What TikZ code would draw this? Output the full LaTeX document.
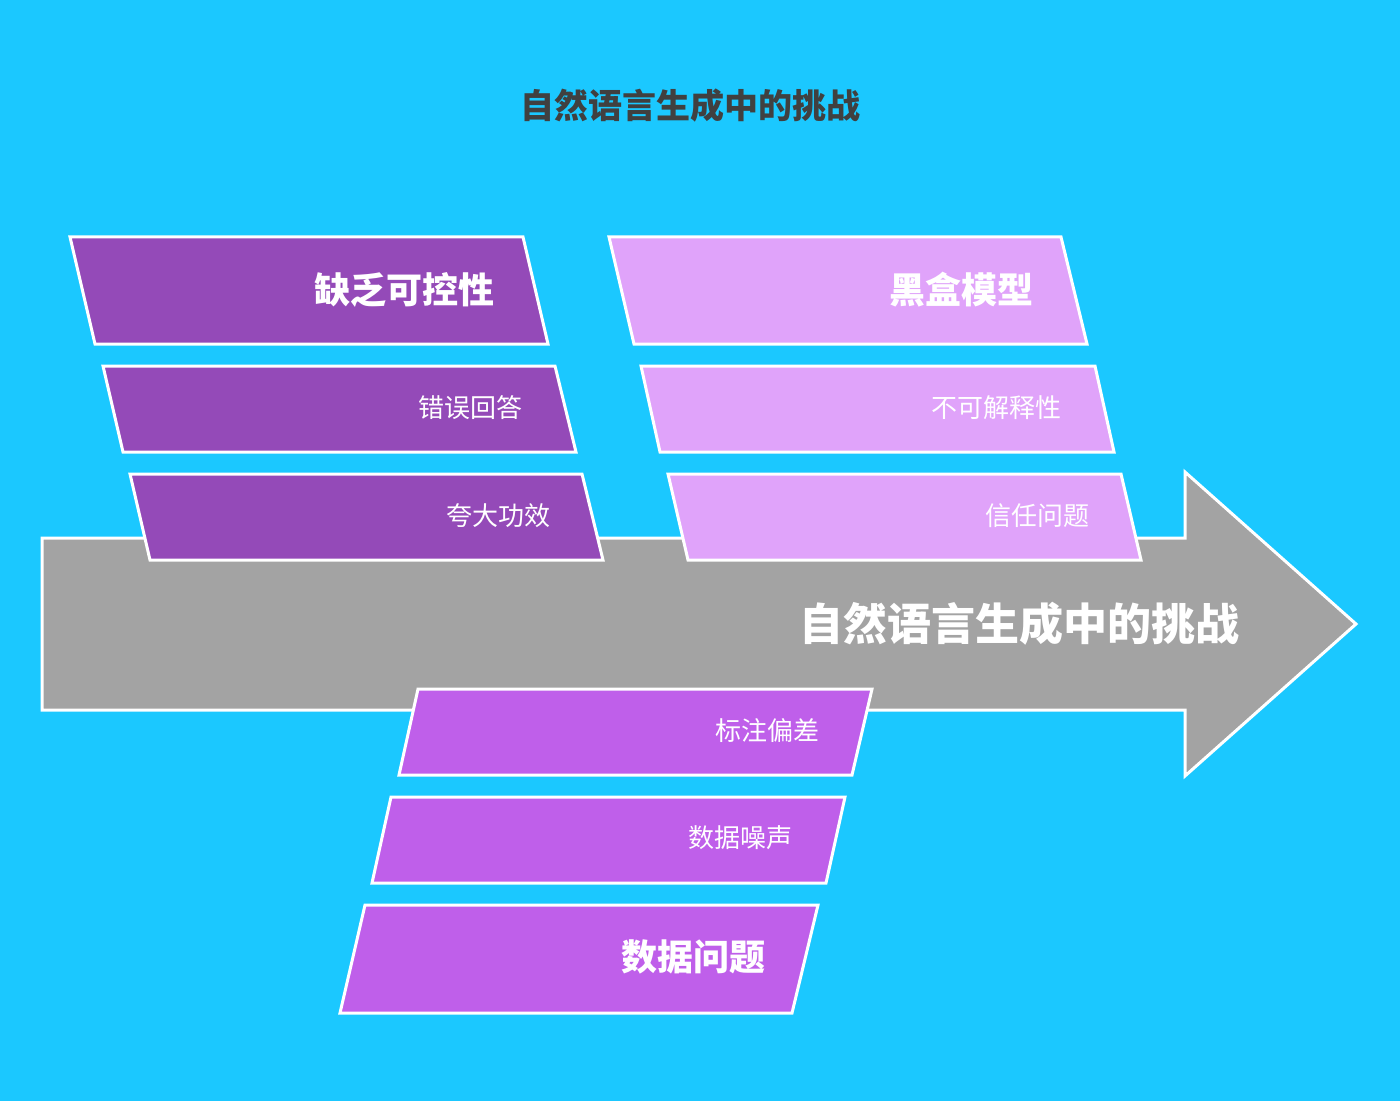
\documentclass[tikz,border=0pt]{standalone}
\usepackage{fontspec}
\setmainfont{Noto Sans CJK SC}
\begin{document}
\begin{tikzpicture}[x=0.5pt,y=-0.5pt,
  para/.style={draw=white,line width=1.5pt},
  big/.style={anchor=east,text=white,font=\fontsize{18}{20}\selectfont\bfseries},
  small/.style={anchor=east,text=white,font=\fontsize{13}{15}\selectfont}]
\definecolor{bg}{HTML}{1BC8FF}
\definecolor{dp}{HTML}{944AB8}
\definecolor{lp}{HTML}{E0A3FA}
\definecolor{mp}{HTML}{BF5FEA}
\definecolor{ag}{HTML}{A3A3A3}
\fill[bg] (0,0) rectangle (1400,1101);
\useasboundingbox (0,0) rectangle (1400,1101);
\node[text=black!75,font=\fontsize{17}{19}\selectfont\bfseries] (title) at (690,106) {自然语言生成中的挑战};
\draw[para,fill=ag] (42,538) -- (1185,538) -- (1185,472) -- (1356,624) -- (1185,776) -- (1185,710) -- (42,710) -- cycle;
\node[anchor=east,text=white,font=\fontsize{22}{24}\selectfont\bfseries] (main) at (1247,624) {自然语言生成中的挑战};
\draw[para,fill=dp] (70,237) -- (523,237) -- (548,344) -- (95,344) -- cycle;
\node[big] (a1) at (502,290) {缺乏可控性};
\draw[para,fill=dp] (103,366) -- (555,366) -- (576,452) -- (123,452) -- cycle;
\node[small] (a2) at (530,408) {错误回答};
\draw[para,fill=dp] (130,474) -- (582,474) -- (603,560) -- (150,560) -- cycle;
\node[small] (a3) at (558,516) {夸大功效};
\draw[para,fill=lp] (609,237) -- (1061,237) -- (1087,344) -- (634,344) -- cycle;
\node[big] (b1) at (1041,290) {黑盒模型};
\draw[para,fill=lp] (641,366) -- (1095,366) -- (1114,452) -- (660,452) -- cycle;
\node[small] (b2) at (1069,408) {不可解释性};
\draw[para,fill=lp] (668,474) -- (1121,474) -- (1141,560) -- (688,560) -- cycle;
\node[small] (b3) at (1097,516) {信任问题};
\draw[para,fill=mp] (418,689) -- (872,689) -- (852,775) -- (399,775) -- cycle;
\node[small] (c1) at (827,731) {标注偏差};
\draw[para,fill=mp] (391,797) -- (845,797) -- (826,883) -- (372,883) -- cycle;
\node[small] (c2) at (800,838) {数据噪声};
\draw[para,fill=mp] (365,905) -- (818,905) -- (792,1013) -- (340,1013) -- cycle;
\node[big] (c3) at (773,957) {数据问题};
\end{tikzpicture}
\end{document}
